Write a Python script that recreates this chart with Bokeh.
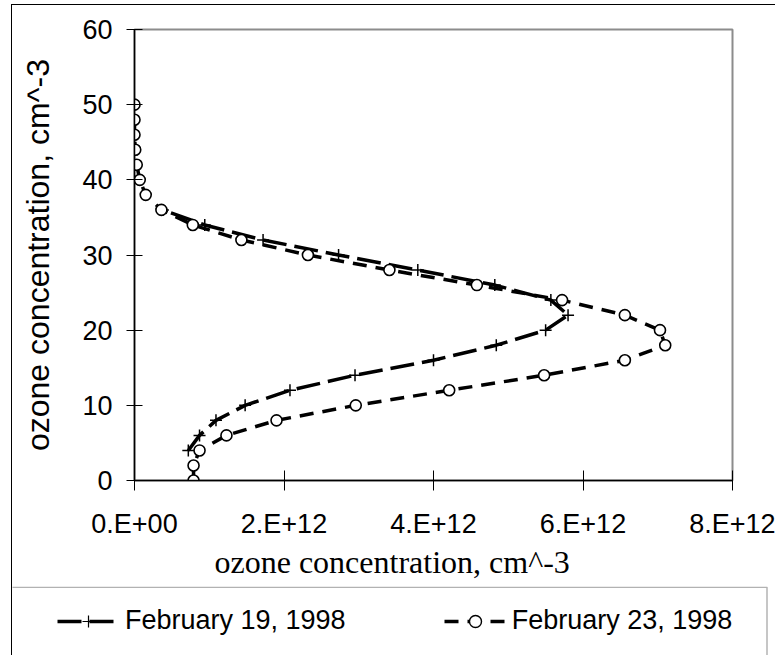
from bokeh.plotting import figure
from bokeh.layouts import column
from bokeh.models import Range1d, BoxAnnotation, Legend, LegendItem, FixedTicker, Title
from bokeh.embed import file_html
from bokeh.resources import INLINE

# ---------------- data ----------------
series_names = ["February 19, 1998", "February 23, 1998"]

altitude_feb19 = [4, 6, 8, 10, 12, 14, 16, 18, 20, 22, 24, 26, 28, 30, 32, 34, 36]
ozone_feb19 = [0.72e12, 0.87e12, 1.09e12, 1.48e12, 2.08e12, 2.95e12, 4.00e12, 4.84e12,
               5.50e12, 5.80e12, 5.57e12, 4.82e12, 3.79e12, 2.73e12, 1.72e12, 0.94e12, 0.38e12]

altitude_feb23 = [0, 2, 4, 6, 8, 10, 12, 14, 16, 18, 20, 22, 24, 26, 28, 30, 32, 34, 36,
                  38, 40, 42, 44, 46, 48, 50]
ozone_feb23 = [0.79e12, 0.79e12, 0.87e12, 1.23e12, 1.90e12, 2.96e12, 4.21e12, 5.48e12,
               6.56e12, 7.10e12, 7.03e12, 6.56e12, 5.72e12, 4.58e12, 3.41e12, 2.32e12,
               1.43e12, 0.78e12, 0.36e12, 0.15e12, 0.07e12, 0.03e12, 0.01e12, 0.0, 0.0, 0.0]

x_ticks = [0, 2e12, 4e12, 6e12, 8e12]
x_tick_labels = ["0.E+00", "2.E+12", "4.E+12", "6.E+12", "8.E+12"]
y_ticks = [0, 10, 20, 30, 40, 50, 60]

x_title = "ozone concentration, cm^-3"
y_title = "ozone concentration, cm^-3"

SANS = "Liberation Sans"
SERIF = "Liberation Serif"

STYLE19_LINE = dict(line_color="black", line_width=3.5, line_dash="24 8")
STYLE23_LINE = dict(line_color="black", line_width=3.5, line_dash="14 9")

# ---------------- main chart ----------------
p = figure(width=763, height=581, output_backend="svg", toolbar_location=None,
           x_range=Range1d(0, 8e12), y_range=Range1d(0, 60),
           min_border_left=122, min_border_right=43, min_border_top=24,
           min_border_bottom=106)
p.frame_align = False
p.background_fill_color = "white"
p.border_fill_color = "white"
p.outline_line_color = "#8c8c8c"
p.outline_line_width = 2
p.xgrid.visible = False
p.ygrid.visible = False

xa = p.xaxis[0]
xa.ticker = FixedTicker(ticks=x_ticks)
xa.major_label_overrides = {t: l for t, l in zip(x_ticks, x_tick_labels)}
xa.minor_tick_line_color = None
xa.major_tick_in = 10
xa.major_tick_out = 10
xa.major_tick_line_color = "black"
xa.axis_line_color = "black"
xa.axis_line_width = 1.5
xa.major_label_text_font = SANS
xa.major_label_text_font_size = "27px"
xa.major_label_text_color = "black"
xa.major_label_standoff = 18

ya = p.yaxis[0]
ya.ticker = FixedTicker(ticks=y_ticks)
ya.minor_tick_line_color = None
ya.major_tick_in = 8
ya.major_tick_out = 8
ya.major_tick_line_color = "black"
ya.axis_line_color = "black"
ya.axis_line_width = 1.5
ya.major_label_text_font = SANS
ya.major_label_text_font_size = "27px"
ya.major_label_text_color = "black"
ya.major_label_standoff = 14
ya.axis_label = y_title
ya.axis_label_text_font = SANS
ya.axis_label_text_font_size = "32px"
ya.axis_label_text_font_style = "normal"
ya.axis_label_text_color = "black"
ya.axis_label_standoff = 23

p.line(ozone_feb19, altitude_feb19, **STYLE19_LINE)
p.scatter(ozone_feb19, altitude_feb19, marker="cross", size=12,
          line_color="black", line_width=1.5)
p.line(ozone_feb23, altitude_feb23, **STYLE23_LINE)
p.scatter(ozone_feb23, altitude_feb23, marker="circle", size=11,
          fill_color="white", line_color="black", line_width=1.6)

xtitle = Title(text=x_title, align="left", offset=80, standoff=0,
               text_font=SERIF, text_font_size="32px", text_font_style="normal",
               text_color="black")
p.add_layout(xtitle, "below")

# ---------------- legend panel (boxed, below the chart) ----------------
LW, LH = 763, 69
Y0 = -1000  # panel range lies below all data, so the series themselves stay hidden here
pl = figure(width=LW, height=LH, output_backend="svg", toolbar_location=None,
            x_range=Range1d(0, LW), y_range=Range1d(Y0, Y0 + LH),
            min_border_left=0, min_border_right=0, min_border_top=0, min_border_bottom=0)
pl.frame_align = False
pl.axis.visible = False
pl.grid.visible = False
pl.outline_line_color = None
pl.background_fill_color = "white"
pl.border_fill_color = "white"

box = BoxAnnotation(left=-10, right=754.5, top=Y0 + LH - 0.75, bottom=Y0 - 10,
                    fill_alpha=0, line_color="black", line_width=1.5)
pl.add_layout(box)

# legend glyph renderers: same series, outside this panel's visible ranges
g19l = pl.line(ozone_feb19, altitude_feb19, **STYLE19_LINE)
g19m = pl.scatter(ozone_feb19, altitude_feb19, marker="cross", size=10,
                  line_color="black", line_width=1.2)
g23l = pl.line(ozone_feb23, altitude_feb23, **STYLE23_LINE)
g23m = pl.scatter(ozone_feb23, altitude_feb23, marker="circle", size=9,
                  fill_color="white", line_color="black", line_width=1.4)

legend = Legend(items=[LegendItem(label=series_names[0], renderers=[g19l, g19m]),
                       LegendItem(label=series_names[1], renderers=[g23l, g23m])],
                orientation="horizontal", location=(45, 19),
                border_line_alpha=0, background_fill_alpha=0,
                padding=0, margin=0, spacing=98,
                glyph_width=62, glyph_height=30, label_height=30, label_standoff=6,
                label_text_font=SANS, label_text_font_size="27px",
                label_text_color="black")
pl.add_layout(legend, "center")

root = column(p, pl, spacing=0,
              styles={"margin-left": "11px", "margin-top": "4px",
                      "border-left": "1.5px solid black",
                      "border-top": "1.5px solid black"})

open("out.html", "w").write(file_html(root, INLINE))
